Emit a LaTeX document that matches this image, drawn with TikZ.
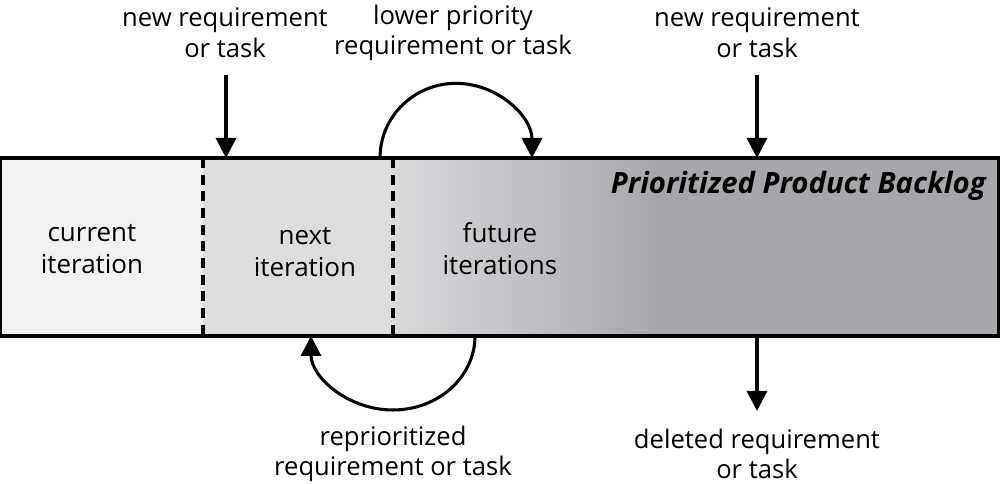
\documentclass[tikz,border=0pt]{standalone}
\usepackage{fontspec}
\setmainfont{Open Sans}
\usetikzlibrary{arrows.meta}
\definecolor{curcol}{HTML}{F2F2F2}
\definecolor{nxtcol}{HTML}{DCDDDF}
\definecolor{futl}{HTML}{D9DADC}
\definecolor{futd}{HTML}{A6A7AA}
\begin{document}
\begin{tikzpicture}[x=0.75pt,y=-0.75pt,
  lbl/.style={align=center,font=\fontsize{19.2}{23}\selectfont,inner sep=0pt},
  inlbl/.style={align=center,font=\fontsize{19.5}{24}\selectfont,inner sep=0pt},
  conn/.style={line width=2.3pt,-{Triangle[length=15pt,width=15pt]}},
  divider/.style={line width=2.6pt,dash pattern=on 7.5pt off 5pt},
  border/.style={line width=2.4pt}]
\useasboundingbox (0,0) rectangle (1000,484);
% fills
\fill[curcol] (1,158) rectangle (203,336);
\fill[nxtcol] (203,158) rectangle (393,336);
\shade[left color=futl,right color=futd] (393,158) rectangle (660,336);
\fill[futd] (659,158) rectangle (998,336);
% box
\node[border,draw,minimum width=748.5pt,minimum height=133.5pt,inner sep=0pt] (backlog) at (499.5,247) {};
\draw[divider] (203,158) -- (203,336);
\draw[divider] (393,158) -- (393,336);
% box labels
\node[inlbl] (cur) at (92,249) {current\\iteration};
\node[inlbl] (nxt) at (305,252) {next\\iteration};
\node[inlbl] (fut) at (500,249) {future\\iterations};
\node[anchor=east,inner sep=0pt,font=\fontsize{22}{24}\bfseries\itshape\selectfont] (title) at (986,186) {Prioritized Product Backlog};
% outer labels
\node[lbl] (new1) at (225,33) {new requirement\\or task};
\node[lbl] (lower) at (453,33) {lower priority\\requirement or task};
\node[lbl] (new2) at (757,33) {new requirement\\or task};
\node[lbl] (repri) at (393,454) {reprioritized\\requirement or task};
\node[lbl] (del) at (757,454) {deleted requirement\\or task};
% connector end points
\coordinate (t1) at (226,158);
\coordinate (t2) at (757,158);
\coordinate (s1) at (226,75);
\coordinate (s2) at (757,75);
\coordinate (a1) at (380,158);
\coordinate (b1) at (475,336);
\coordinate (d0) at (757,336);
\coordinate (d1) at (757,411);
% connectors
\draw[conn] (s1) -- (t1);
\draw[conn] (s2) -- (t2);
\draw[conn] (d0) -- (d1);
\draw[conn] (a1) arc[start angle=180,end angle=0,x radius=57pt,y radius=56pt];
\draw[conn] (b1) arc[start angle=0,end angle=-180,x radius=61.5pt,y radius=55.5pt];
\end{tikzpicture}
\end{document}
